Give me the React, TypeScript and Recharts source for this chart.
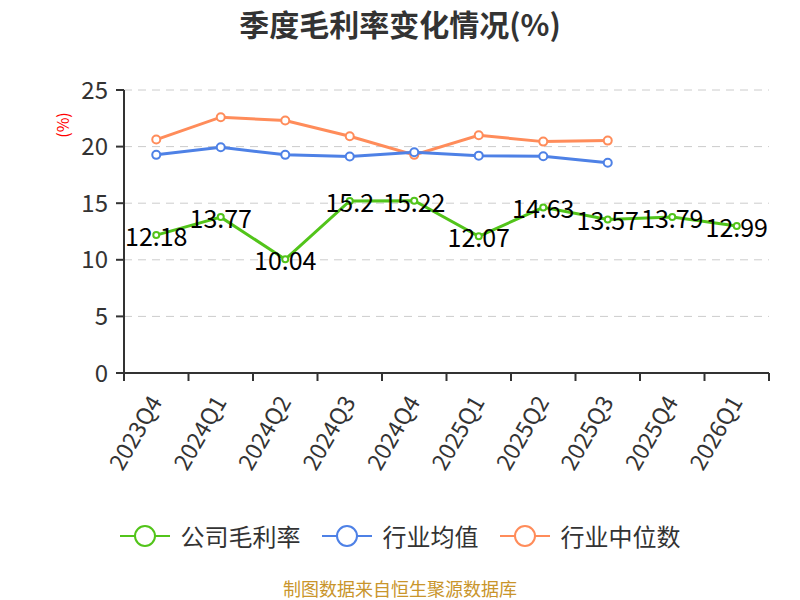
import { CartesianGrid, LabelList, Line, LineChart, XAxis, YAxis } from "recharts";

const quarters = ["2023Q4", "2024Q1", "2024Q2", "2024Q3", "2024Q4", "2025Q1", "2025Q2", "2025Q3", "2025Q4", "2026Q1"];
const companyMargin = [12.18, 13.77, 10.04, 15.2, 15.22, 12.07, 14.63, 13.57, 13.79, 12.99];
const industryAvg = [19.27, 19.94, 19.27, 19.12, 19.5, 19.2, 19.14, 18.58];
const industryMedian = [20.62, 22.6, 22.3, 20.91, 19.27, 21.0, 20.44, 20.53];
const yTicks = [0, 5, 10, 15, 20, 25];
const xTicks = [0, 1, 2, 3, 4, 5, 6, 7, 8, 9, 10];

const data = quarters.map((q, i) => ({
  x: i + 0.5,
  label: q,
  company: companyMargin[i],
  avg: industryAvg[i],
  median: industryMedian[i],
}));

const GREEN = "#52c41a";
const BLUE = "#4e81e6";
const ORANGE = "#ff8c5a";
const FONT = "'Noto Sans CJK SC', 'Noto Sans', sans-serif";

const QuarterTick = (props: any) => {
  const { x, y, payload } = props;
  const idx = payload.value;
  if (idx >= quarters.length) return null;
  const step = 645 / 10;
  const cx = x + step / 2 - 2;
  const cy = y + 14;
  return (
    <text
      x={cx}
      y={cy}
      transform={`rotate(-60 ${cx} ${cy})`}
      textAnchor="end"
      dominantBaseline="central"
      fill="#333"
      fontSize={23}
      fontFamily={FONT}
    >
      {quarters[idx]}
    </text>
  );
};

const ValueLabel = (props: any) => {
  const { x, y, value } = props;
  return (
    <text x={x} y={y} textAnchor="middle" dominantBaseline="central" fill="#000" fontSize={25} fontFamily={FONT}>
      {value}
    </text>
  );
};

const legendItems = [
  { name: "公司毛利率", color: GREEN },
  { name: "行业均值", color: BLUE },
  { name: "行业中位数", color: ORANGE },
];

export default function App() {
  return (
    <div style={{ position: "absolute", left: 0, top: 0, width: 800, height: 600, background: "#fff", fontFamily: FONT }}>
      <div
        style={{
          position: "absolute",
          top: 1,
          left: 0,
          width: 800,
          textAlign: "center",
          fontSize: 30,
          fontWeight: "bold",
          color: "#333",
        }}
      >
        季度毛利率变化情况(%)
      </div>
      <div
        style={{
          position: "absolute",
          left: 49,
          top: 113,
          fontSize: 16,
          color: "red",
          transform: "rotate(-90deg)",
          transformOrigin: "center",
        }}
      >
        (%)
      </div>
      <LineChart width={800} height={600} data={data} margin={{ top: 90, right: 31, bottom: 167, left: 64 }}>
        <CartesianGrid vertical={false} stroke="#ccc" strokeDasharray="8 6" />
        <XAxis
          type="number"
          dataKey="x"
          domain={[0, 10]}
          ticks={xTicks}
          interval={0}
          height={60}
          tick={<QuarterTick />}
          tickSize={8}
          axisLine={{ stroke: "#333", strokeWidth: 2 }}
          tickLine={{ stroke: "#333", strokeWidth: 2 }}
        />
        <YAxis
          domain={[0, 25]}
          ticks={yTicks}
          width={60}
          tickSize={8}
          tickMargin={8}
          tick={{ fill: "#333", fontSize: 24, fontFamily: FONT }}
          axisLine={{ stroke: "#333", strokeWidth: 2 }}
          tickLine={{ stroke: "#333", strokeWidth: 2 }}
        />
        <Line
          dataKey="median"
          stroke={ORANGE}
          strokeWidth={3}
          dot={{ r: 4, fill: "#fff", stroke: ORANGE, strokeWidth: 2 }}
          isAnimationActive={false}
        />
        <Line
          dataKey="avg"
          stroke={BLUE}
          strokeWidth={3}
          dot={{ r: 4, fill: "#fff", stroke: BLUE, strokeWidth: 2 }}
          isAnimationActive={false}
        />
        <Line
          dataKey="company"
          stroke={GREEN}
          strokeWidth={3}
          dot={{ r: 3, fill: "#fff", stroke: GREEN, strokeWidth: 2 }}
          isAnimationActive={false}
        >
          <LabelList dataKey="company" content={<ValueLabel />} />
        </Line>
      </LineChart>
      <div style={{ position: "absolute", top: 518, left: 0, width: 800, display: "flex", justifyContent: "center", gap: 21 }}>
        {legendItems.map((item) => (
          <div key={item.name} style={{ display: "flex", alignItems: "center", fontSize: 24, color: "#333" }}>
            <svg width={50} height={32} style={{ marginRight: 11 }}>
              <line x1={0} y1={16} x2={50} y2={16} stroke={item.color} strokeWidth={2} />
              <circle cx={25} cy={16} r={10} fill="#fff" stroke={item.color} strokeWidth={2} />
            </svg>
            {item.name}
          </div>
        ))}
      </div>
      <div
        style={{
          position: "absolute",
          top: 578,
          left: 0,
          width: 800,
          height: 20,
          lineHeight: "20px",
          textAlign: "center",
          fontSize: 18,
          color: "#c9952b",
        }}
      >
        制图数据来自恒生聚源数据库
      </div>
    </div>
  );
}
